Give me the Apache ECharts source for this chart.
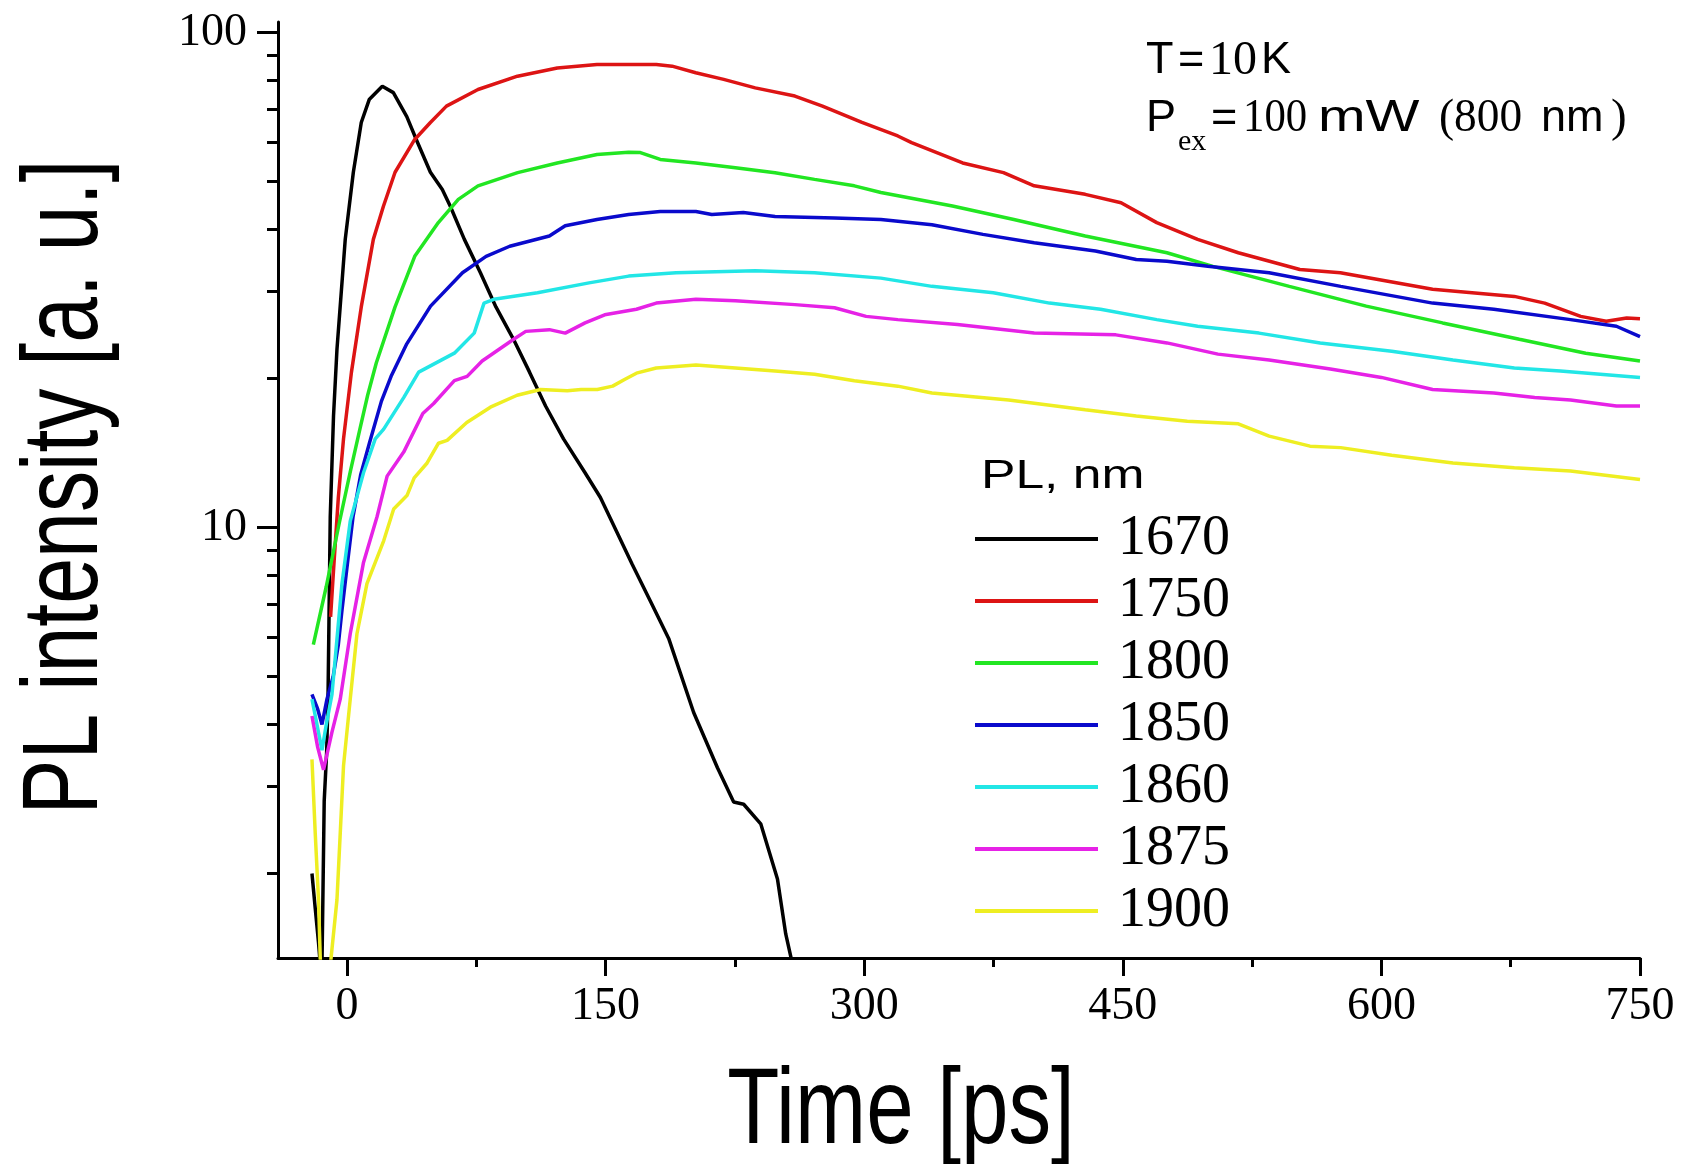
<!DOCTYPE html>
<html>
<head>
<meta charset="utf-8">
<script src="https://cdn.jsdelivr.net/npm/echarts@6/dist/echarts.min.js"></script>
<style>
html,body{margin:0;padding:0;background:#fff;}
#chart{width:1681px;height:1164px;}
</style>
</head>
<body>
<div id="chart"></div>
<script>
// ---- data (time in ps, PL intensity in a.u.) ----
const seriesNames = ['1670', '1750', '1800', '1850', '1860', '1875', '1900'];
const seriesColors = ['#000000', '#dd1414', '#22e622', '#0a0acc', '#22e6e6', '#e622e6', '#eeee22'];

const pl1670 = [[-20.3,2.0],[-18.4,1.7],[-16.5,1.45],[-15,1.25],[-14.5,1.3],[-13.2,2.8],[-11.8,3.5],[-11,4.5],[-9.7,10.5],[-7.8,16.8],[-5.8,22.9],[-1,38.2],[3.7,52.2],[8.3,65.8],[12.9,73.2],[20.5,77.9],[26.9,75.6],[34.7,67.6],[40.2,60.8],[48.4,52.2],[55.3,48.2],[60,44.5],[68.1,38.2],[77.4,32.7],[86.4,27.9],[96.6,24.0],[105.9,20.6],[115.2,17.6],[125.6,15.1],[138.1,12.9],[147,11.5],[165.5,8.42],[176.1,7.09],[186.6,5.97],[201.1,4.23],[214.9,3.27],[224.3,2.79],[230.1,2.76],[240,2.52],[249.7,1.95],[254.5,1.51],[257.4,1.36],[262,1.15]];
const pl1750 = [[-9.5,6.6],[-7.5,8.5],[-5,11.5],[-2,15.1],[2.6,20.6],[8.3,27.9],[15.3,38.2],[21.1,44.5],[27.9,52.2],[39.3,60.8],[48.4,65.8],[57.7,71],[76,76.7],[98.9,81.6],[122,84.8],[145,86.2],[179.4,86.2],[188.6,85.5],[202.3,82.9],[218.5,80.4],[236.8,77.3],[259.8,74.4],[275.8,71],[298.7,65.8],[319.5,61.8],[327.5,59.9],[357.1,54.5],[380.8,52.1],[398.6,49],[428.2,47.1],[449,45.3],[469.7,41.3],[493.4,38.2],[517,35.9],[552.7,33.2],[576.2,32.7],[629.7,30.3],[677.1,29.3],[694.7,28.4],[715.6,26.7],[730.4,26.1],[742.3,26.5],[750,26.4]];
const pl1800 = [[-19.5,5.8],[-12,7.6],[-4.5,10.2],[2,13.0],[7.5,15.8],[12,18.5],[17,21.5],[27.9,27.9],[39.3,35.3],[53,41.3],[64.6,46],[76,49],[99,52.1],[122,54.5],[145,56.7],[163.4,57.3],[170.2,57.2],[181.7,55.4],[202.4,54.5],[225.3,53.3],[248.3,52.1],[271.2,50.5],[294.3,49],[309.7,47.5],[351.2,44.6],[386.8,41.9],[428.2,38.8],[475.6,35.9],[502.3,33.7],[546.6,30.7],[591.2,28],[635.5,25.9],[680,24],[718.5,22.5],[750,21.7]];
const pl1850 = [[-20.3,4.6],[-17,4.3],[-14.5,4.0],[-11.6,4.5],[-8,5.0],[-5,5.8],[-2.9,6.8],[0,8.3],[3.5,10.5],[8,12.8],[13,14.8],[20,18],[25.6,20.2],[34.7,23.5],[48.5,28],[67,32.7],[80.7,35.3],[94.4,37],[117.4,38.8],[126.6,40.7],[145,41.9],[163.4,42.9],[181.7,43.5],[202.4,43.5],[211.6,42.9],[229.9,43.3],[248.3,42.5],[282.8,42.2],[309.7,41.9],[339.3,40.9],[368.9,39.1],[398.6,37.6],[434.1,36.2],[457.8,34.8],[475.6,34.5],[499.3,33.7],[534.9,32.7],[576.4,30.7],[629.7,28.4],[665.2,27.6],[709.7,26.3],[736.3,25.5],[750,24.3]];
const pl1860 = [[-20.3,4.5],[-17.4,4.0],[-14.5,3.55],[-12,4.0],[-8.7,4.6],[-2.9,7.7],[1.9,10.3],[9.6,12.9],[16.4,15.1],[21.3,15.8],[32.9,18.3],[41.6,20.6],[62.3,22.5],[73.8,24.7],[79.5,28.4],[85.2,28.9],[110.5,29.8],[140.4,31.2],[163.4,32.2],[190.9,32.7],[236.8,33],[271.2,32.7],[309.7,31.9],[339.3,30.7],[374.9,29.8],[407.5,28.4],[437.1,27.6],[469.7,26.3],[493.4,25.5],[529,24.7],[564.5,23.6],[606,22.7],[641.5,21.8],[677.1,21],[703.8,20.7],[750,20.1]];
const pl1875 = [[-20.3,4.16],[-17,3.6],[-13.6,3.24],[-8.7,3.86],[-3.9,4.5],[1.9,6.1],[9.6,8.5],[17.4,10.5],[23.3,12.7],[32.9,14.2],[44,17.0],[50.3,17.8],[62.3,19.8],[69.7,20.2],[78.4,21.7],[96.7,24],[103.7,24.9],[117.4,25.1],[126.6,24.7],[138.1,25.9],[149.5,26.9],[167.9,27.6],[179.4,28.4],[202.4,28.9],[225.3,28.7],[259.8,28.2],[282.8,27.8],[301.1,26.7],[319.5,26.3],[354.1,25.7],[398.6,24.7],[446,24.5],[475.6,23.6],[505.2,22.4],[534.9,21.8],[570.4,20.9],[600,20.1],[629.7,19],[665.2,18.7],[688.9,18.3],[709.7,18.1],[736.3,17.6],[750,17.6]];
const pl1900 = [[-20.3,3.4],[-18.4,2.41],[-16.5,1.77],[-15.5,1.35],[-13,1.0],[-9.7,1.3],[-5.8,1.77],[-3.9,2.41],[-2,3.3],[1.9,4.5],[5.8,6.1],[11.6,7.7],[21.3,9.4],[27.1,10.9],[34.8,11.6],[39,12.6],[46.5,13.5],[53.1,14.8],[58.1,15.0],[69.5,16.3],[83.2,17.5],[98.7,18.5],[112.3,19.0],[127.8,18.9],[135.8,19],[145.2,19.0],[154.1,19.3],[161,19.9],[167.9,20.5],[179.4,21],[202.4,21.3],[225.3,21],[248.3,20.7],[271.2,20.4],[294.3,19.8],[319.5,19.3],[339.3,18.7],[383.8,18.1],[428.2,17.3],[457.8,16.8],[487.4,16.4],[517,16.2],[534.9,15.3],[558.6,14.6],[576.4,14.5],[606,14.0],[641.5,13.5],[677.1,13.2],[709.7,13.0],[750,12.5]];
const seriesData = [pl1670, pl1750, pl1800, pl1850, pl1860, pl1875, pl1900];

// ---- axes / ticks ----
const xMajorTicks = [0, 150, 300, 450, 600, 750];
const xMinorTicks = [75, 225, 375, 525, 675];
const yMajorTicks = [10, 100];
const yMinorTicks = [2, 3, 4, 5, 6, 7, 8, 9, 20, 30, 40, 50, 60, 70, 80, 90];
const xRange = [-40, 750];
const yRange = [1.35, 105];

const xTitle = 'Time [ps]';
const yTitle = 'PL intensity [a. u.]';
const legendTitle = 'PL, nm';

const SERIF = "'Liberation Serif','Times New Roman',serif";
const SANS = "'Liberation Sans',Arial,sans-serif";

const chart = echarts.init(document.getElementById('chart'), null, {renderer: 'canvas'});

const axisLineStyle = {show: true, onZero: false, lineStyle: {color: '#000', width: 3}};

function txt(text, x, y, font, opts) {
  opts = opts || {};
  return {
    type: 'text', x: x, y: y,
    rotation: opts.rotation || 0,
    scaleX: opts.scaleX || 1, scaleY: 1,
    silent: true,
    style: {text: text, font: font, fill: '#000', align: opts.align || 'left', verticalAlign: 'middle'}
  };
}

const option = {
  backgroundColor: '#ffffff',
  animation: false,
  grid: {left: 278, right: 41, top: 22, bottom: 206, containLabel: false, outerBoundsMode: 'none'},
  xAxis: [
    {
      type: 'value', min: xRange[0], max: xRange[1], position: 'bottom', offset: 0,
      axisLine: axisLineStyle,
      axisTick: {show: true, customValues: xMajorTicks, length: 18, inside: false, lineStyle: {color: '#000', width: 3}},
      axisLabel: {show: true, customValues: xMajorTicks, margin: 26, color: '#000', fontFamily: SERIF, fontSize: 46},
      splitLine: {show: false}
    },
    {
      type: 'value', min: xRange[0], max: xRange[1], position: 'bottom', offset: 0,
      axisLine: {show: false, onZero: false},
      axisTick: {show: true, customValues: xMinorTicks, length: 9, inside: false, lineStyle: {color: '#000', width: 3}},
      axisLabel: {show: false},
      splitLine: {show: false}
    }
  ],
  yAxis: [
    {
      type: 'log', logBase: 10, min: yRange[0], max: yRange[1], position: 'left', offset: 0,
      axisLine: axisLineStyle,
      axisTick: {show: true, customValues: yMajorTicks, length: 21, inside: false, lineStyle: {color: '#000', width: 3}},
      axisLabel: {show: true, customValues: yMajorTicks, margin: 31, color: '#000', fontFamily: SERIF, fontSize: 46},
      splitLine: {show: false},
      minorTick: {show: false}
    },
    {
      type: 'log', logBase: 10, min: yRange[0], max: yRange[1], position: 'left', offset: 0,
      axisLine: {show: false, onZero: false},
      axisTick: {show: true, customValues: yMinorTicks, length: 11, inside: false, lineStyle: {color: '#000', width: 3}},
      axisLabel: {show: false},
      splitLine: {show: false}
    }
  ],
  legend: {
    show: true, orient: 'vertical', left: 970, top: 503, padding: 5,
    icon: 'rect', itemWidth: 123, itemHeight: 4, itemGap: 0, selectedMode: false,
    data: seriesNames,
    textStyle: {fontFamily: SERIF, fontSize: 56, color: '#000', lineHeight: 62, padding: [0, 0, 0, 15]}
  },
  graphic: [
    // axis titles (condensed as in the original)
    txt(yTitle, 67, 487, "107px " + SANS, {rotation: Math.PI / 2, scaleX: 0.77, align: 'center'}),
    txt(xTitle, 901, 1113, "108px " + SANS, {scaleX: 0.79, align: 'center'}),
    // legend title
    txt(legendTitle, 981, 477, "40px " + SANS, {scaleX: 1.29}),
    // annotation line 1: T=10K
    txt('T', 1146, 61, "45px " + SANS),
    txt('=', 1178, 61, "45px " + SANS),
    txt('10', 1209, 61, "48px " + SERIF),
    txt('K', 1261, 61, "45px " + SANS),
    // annotation line 2: P_ex=100 mW (800 nm)
    txt('P', 1146, 119, "45px " + SANS),
    txt('ex', 1178, 142, "30px " + SERIF),
    txt('=', 1211, 119, "45px " + SANS),
    txt('100', 1243, 119, "47px " + SERIF, {scaleX: 0.91}),
    txt('mW', 1318, 119, "45px " + SANS, {scaleX: 1.27}),
    txt('(800', 1439, 119, "47px " + SERIF, {scaleX: 0.965}),
    txt('nm', 1541, 119, "45px " + SANS, {scaleX: 1.0}),
    txt(')', 1611, 119, "47px " + SERIF)
  ],
  series: seriesNames.map((name, i) => ({
    name: name,
    type: 'line',
    xAxisIndex: 0,
    yAxisIndex: 0,
    data: seriesData[i],
    symbol: 'none',
    showSymbol: false,
    smooth: false,
    clip: true,
    color: seriesColors[i],
    itemStyle: {color: seriesColors[i]},
    lineStyle: {color: seriesColors[i], width: 3.5},
    emphasis: {disabled: true}
  }))
};

chart.setOption(option);
</script>
</body>
</html>
